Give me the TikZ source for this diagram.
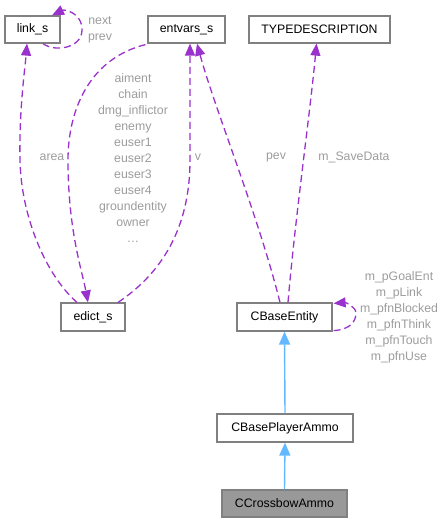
\documentclass[tikz,border=0pt]{standalone}
\usepackage{fontspec}
\setmainfont{Liberation Sans}
\usetikzlibrary{arrows.meta}
\definecolor{edgepurple}{HTML}{9A32CD}
\definecolor{edgeblue}{HTML}{63B8FF}
\definecolor{lblgray}{HTML}{9C9C9C}
\definecolor{boxgray}{HTML}{808080}
\definecolor{curfill}{HTML}{999999}
\begin{document}
\begin{tikzpicture}[x=1pt,y=-1pt,
  cls/.style={draw=boxgray,line width=1.2pt,fill=white,inner sep=0pt,minimum height=27pt,
    font=\fontsize{12.3}{15}\selectfont,text=black},
  lbl/.style={text=lblgray,inner sep=0pt,align=center,font=\fontsize{12.3}{16}\selectfont},
  uses/.style={draw=edgepurple,line width=1.3pt,dash pattern=on 7pt off 4pt,
    -{Triangle[length=12pt,width=10pt,fill=edgepurple]}},
  inherit/.style={draw=edgeblue,line width=1.4pt,
    -{Triangle[length=13pt,width=11pt,fill=edgeblue]}}]
\useasboundingbox (0,0) rectangle (444,523);
% nodes
\node[cls,minimum width=55pt] (link) at (32.5,29.5) {link\_s};
\node[cls,minimum width=77pt] (entvars) at (186.5,29.5) {entvars\_s};
\node[cls,minimum width=141pt] (typedesc) at (319.5,29.5) {TYPEDESCRIPTION};
\node[cls,minimum width=64pt,minimum height=28pt] (edict) at (93,317) {edict\_s};
\node[cls,minimum width=95pt,minimum height=28pt] (base) at (284.5,317) {CBaseEntity};
\node[cls,minimum width=136pt,minimum height=28pt] (ammo) at (285,428) {CBasePlayerAmmo};
\node[cls,minimum width=125pt,fill=curfill] (cross) at (284.5,503.5) {CCrossbowAmmo};
% labels
\node[lbl] (lnext) at (100,30) {next\\prev};
\node[lbl] (lentv) at (133,158) {aiment\\chain\\dmg\_inflictor\\enemy\\euser1\\euser2\\euser3\\euser4\\groundentity\\owner\\…};
\node[lbl] (larea) at (52,157) {area};
\node[lbl] (lv) at (198,157) {v};
\node[lbl] (lpev) at (276,157) {pev};
\node[lbl] (lsave) at (354,157) {m\_SaveData};
\node[lbl] (lbase) at (399,317) {m\_pGoalEnt\\m\_pLink\\m\_pfnBlocked\\m\_pfnThink\\m\_pfnTouch\\m\_pfnUse};
% connectors
\draw[uses] ([xshift=10.5pt]link.south) .. controls +(12,9) and +(0,18) .. (82,30)
  .. controls +(0,-18) and +(12,-6) .. ([xshift=19.5pt]link.north);
\draw[uses] ([xshift=-16pt]edict.north) .. controls +(-32,-28) and +(1,55) .. (20,160)
  .. controls +(-1,-50) and +(-2,25) .. ([xshift=-5.5pt]link.south);
\draw[uses] ([xshift=-2pt,yshift=-1pt]entvars.south west) .. controls +(-56,14) and +(0,-50) .. (68,160)
  .. controls +(0,70) and +(-6,-32) .. ([xshift=-5pt]edict.north);
\draw[uses] ([xshift=25pt]edict.north) .. controls +(42,-28) and +(0,70) .. (190,160)
  .. controls +(0,-50) and +(0,30) .. ([xshift=3.5pt]entvars.south);
\draw[uses] ([xshift=-4.5pt]base.north) .. controls +(-22,-88) and +(18,66) .. ([xshift=10.5pt]entvars.south);
\draw[uses] ([xshift=3.5pt]base.north) .. controls +(7,-83) and +(-6,66) .. ([xshift=-3pt]typedesc.south);
\draw[uses] ([xshift=1pt,yshift=1pt]base.south east) .. controls +(17,-1) and +(0,8) .. (356,313)
  .. controls +(0,-6) and +(12,-1) .. ([xshift=1pt,yshift=-1pt]base.north east);
\draw[inherit] (ammo.north) -- (base.south);
\draw[inherit] (cross.north) -- (ammo.south);
\end{tikzpicture}
\end{document}
